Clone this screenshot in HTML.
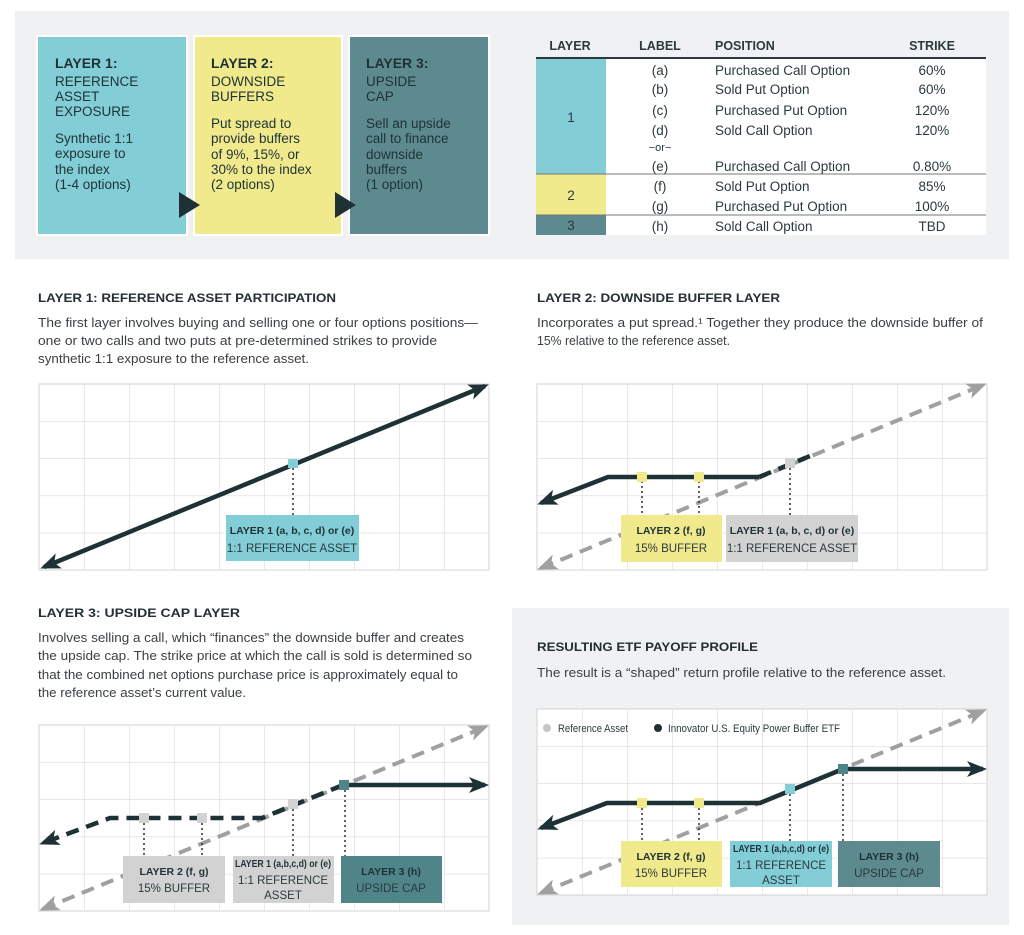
<!DOCTYPE html>
<html><head><meta charset="utf-8"><style>
html,body{margin:0;padding:0;background:#fff;}
svg{display:block;font-family:"Liberation Sans",sans-serif;}
.h{font-weight:bold;font-size:12px;fill:#232f33;}
.p{font-size:13px;fill:#3a3f42;}
.bh{font-weight:bold;font-size:14px;fill:#1e3236;}
.bt{font-size:13.5px;fill:#1e3236;}
.th{font-weight:bold;font-size:12.5px;fill:#2b3a3d;}
.td{font-size:13.5px;fill:#2b3a3d;}
.lb{font-weight:bold;font-size:10.5px;fill:#1e3236;}
.ls{font-size:11.5px;fill:#2b3a3d;}
</style></head><body>
<svg width="1024" height="935" viewBox="0 0 1024 935" xmlns="http://www.w3.org/2000/svg">
<defs>
<marker id="ad" markerUnits="userSpaceOnUse" markerWidth="22" markerHeight="16" refX="16" refY="8" orient="auto-start-reverse"><path d="M0,0 L20,8 L0,16 L5,8 z" fill="#1e3236"/></marker>
<marker id="ag" markerUnits="userSpaceOnUse" markerWidth="22" markerHeight="16" refX="16" refY="8" orient="auto-start-reverse"><path d="M0,0 L20,8 L0,16 L5,8 z" fill="#a0a0a0"/></marker>
<pattern id="g" x="0" y="0" width="45" height="37.2" patternUnits="userSpaceOnUse"><path d="M0,0 H45 M0,0 V37.2" stroke="#d3d3d3" stroke-width="1" fill="none"/></pattern>
</defs>

<!-- top panel -->
<rect x="15" y="11" width="994" height="248" fill="#f0f1f2"/>
<rect x="36" y="35" width="152" height="201" fill="#fff"/>
<rect x="38" y="37" width="148" height="197" fill="#82cdd6"/>
<rect x="193" y="35" width="150" height="201" fill="#fff"/>
<rect x="195" y="37" width="146" height="197" fill="#f0ea8c"/>
<rect x="348" y="35" width="142" height="201" fill="#fff"/>
<rect x="350" y="37" width="138" height="197" fill="#5d8a8e"/>
<path d="M179,192 L200,205 L179,218 z" fill="#1e3236"/>
<path d="M335,192 L356,205 L335,218 z" fill="#1e3236"/>
<g class="bh"><text x="55" y="68">LAYER 1:</text><text x="211" y="68">LAYER 2:</text><text x="366" y="68">LAYER 3:</text></g>
<g class="bt" font-size="14">
<text x="55" y="86">REFERENCE</text><text x="55" y="101">ASSET</text><text x="55" y="116">EXPOSURE</text>
<text x="211" y="86">DOWNSIDE</text><text x="211" y="101">BUFFERS</text>
<text x="366" y="86">UPSIDE</text><text x="366" y="101">CAP</text>
</g>
<g class="bt" font-size="13">
<text x="55" y="143">Synthetic 1:1</text><text x="55" y="158">exposure to</text><text x="55" y="174">the index</text><text x="55" y="189">(1-4 options)</text>
<text x="211" y="128">Put spread to</text><text x="211" y="143">provide buffers</text><text x="211" y="159">of 9%, 15%, or</text><text x="211" y="174">30% to the index</text><text x="211" y="189">(2 options)</text>
<text x="366" y="128">Sell an upside</text><text x="366" y="143">call to finance</text><text x="366" y="159">downside</text><text x="366" y="174">buffers</text><text x="366" y="189">(1 option)</text>
</g>

<!-- table -->
<rect x="536" y="59" width="450" height="176" fill="#fff"/>
<rect x="536" y="59" width="70" height="115" fill="#82cdd6"/>
<rect x="536" y="174" width="70" height="41" fill="#f0ea8c"/>
<rect x="536" y="215" width="70" height="20" fill="#5d8a8e"/>
<line x1="536" y1="58" x2="986" y2="58" stroke="#2b3a3d" stroke-width="2"/>
<line x1="536" y1="174" x2="986" y2="174" stroke="#777" stroke-width="1"/>
<line x1="536" y1="215" x2="986" y2="215" stroke="#777" stroke-width="1"/>
<g class="th"><text x="570" y="50" text-anchor="middle">LAYER</text><text x="660" y="50" text-anchor="middle">LABEL</text><text x="715" y="50">POSITION</text><text x="932" y="50" text-anchor="middle">STRIKE</text></g>
<g class="td">
<text x="571" y="122" text-anchor="middle">1</text><text x="571" y="200" text-anchor="middle">2</text><text x="571" y="230" text-anchor="middle">3</text>
<g text-anchor="middle">
<text x="660" y="75">(a)</text><text x="660" y="94">(b)</text><text x="660" y="115">(c)</text><text x="660" y="135">(d)</text><text x="660" y="151" font-size="11">−or−</text><text x="660" y="171">(e)</text><text x="660" y="191">(f)</text><text x="660" y="211">(g)</text><text x="660" y="231">(h)</text>
<text x="932" y="75">60%</text><text x="932" y="94">60%</text><text x="932" y="115">120%</text><text x="932" y="135">120%</text><text x="932" y="171">0.80%</text><text x="932" y="191">85%</text><text x="932" y="211">100%</text><text x="932" y="231">TBD</text>
</g>
<text x="715" y="75">Purchased Call Option</text><text x="715" y="94">Sold Put Option</text><text x="715" y="115">Purchased Put Option</text><text x="715" y="135">Sold Call Option</text><text x="715" y="171">Purchased Call Option</text><text x="715" y="191">Sold Put Option</text><text x="715" y="211">Purchased Put Option</text><text x="715" y="231">Sold Call Option</text>
</g>

<!-- section texts -->
<text class="h" x="38" y="302" textLength="298" lengthAdjust="spacingAndGlyphs">LAYER 1: REFERENCE ASSET PARTICIPATION</text>
<g class="p">
<text x="38" y="327" textLength="440" lengthAdjust="spacingAndGlyphs">The first layer involves buying and selling one or four options positions—</text>
<text x="38" y="345" textLength="399" lengthAdjust="spacingAndGlyphs">one or two calls and two puts at pre-determined strikes to provide</text>
<text x="38" y="363" textLength="271" lengthAdjust="spacingAndGlyphs">synthetic 1:1 exposure to the reference asset.</text>
</g>
<text class="h" x="537" y="302" textLength="243" lengthAdjust="spacingAndGlyphs">LAYER 2: DOWNSIDE BUFFER LAYER</text>
<g class="p">
<text x="537" y="327" textLength="446" lengthAdjust="spacingAndGlyphs">Incorporates a put spread.¹ Together they produce the downside buffer of</text>
<text x="537" y="345" textLength="193" lengthAdjust="spacingAndGlyphs">15% relative to the reference asset.</text>
</g>
<text class="h" x="38" y="617" textLength="202" lengthAdjust="spacingAndGlyphs">LAYER 3: UPSIDE CAP LAYER</text>
<g class="p">
<text x="38" y="642" textLength="426" lengthAdjust="spacingAndGlyphs">Involves selling a call, which “finances” the downside buffer and creates</text>
<text x="38" y="660" textLength="434" lengthAdjust="spacingAndGlyphs">the upside cap. The strike price at which the call is sold is determined so</text>
<text x="38" y="679" textLength="420" lengthAdjust="spacingAndGlyphs">that the combined net options purchase price is approximately equal to</text>
<text x="38" y="697" textLength="208" lengthAdjust="spacingAndGlyphs">the reference asset’s current value.</text>
</g>
<rect x="512" y="608" width="497" height="317" fill="#f0f1f2"/>
<text class="h" x="537" y="651" textLength="221" lengthAdjust="spacingAndGlyphs">RESULTING ETF PAYOFF PROFILE</text>
<text class="p" x="537" y="677" textLength="409" lengthAdjust="spacingAndGlyphs">The result is a “shaped” return profile relative to the reference asset.</text>

<!-- chart 1 -->
<g transform="translate(39,384)">
<rect x="0" y="0" width="450" height="186" fill="url(#g)" stroke="#d3d3d3"/>
</g>
<line x1="44" y1="567" x2="485" y2="386" stroke="#1e3236" stroke-width="4.5" marker-start="url(#ad)" marker-end="url(#ad)"/>
<line x1="293" y1="468" x2="293" y2="515" stroke="#1e3236" stroke-width="1.5" stroke-dasharray="2 3"/>
<rect x="288" y="459" width="10" height="9" fill="#82cdd6"/>
<rect x="226" y="515" width="133" height="46" fill="#82cdd6"/>
<text class="lb" x="292" y="534" text-anchor="middle">LAYER 1 (a, b, c, d) or (e)</text>
<text class="ls" x="292" y="552" text-anchor="middle">1:1 REFERENCE ASSET</text>

<!-- chart 2 -->
<g transform="translate(537,384)">
<rect x="0" y="0" width="450" height="186" fill="url(#g)" stroke="#d3d3d3"/>
</g>
<line x1="541" y1="568" x2="983" y2="385" stroke="#a0a0a0" stroke-width="4" stroke-dasharray="13 8" marker-start="url(#ag)" marker-end="url(#ag)"/>
<line x1="759" y1="477" x2="810" y2="456" stroke="#1e3236" stroke-width="4.5" stroke-dasharray="13 8"/>
<polyline points="759,477 608,477 541,503" fill="none" stroke="#1e3236" stroke-width="4.5" marker-end="url(#ad)"/>
<g stroke="#1e3236" stroke-width="1.5" stroke-dasharray="2 3">
<line x1="642" y1="481" x2="642" y2="515"/><line x1="699" y1="481" x2="699" y2="515"/><line x1="790" y1="468" x2="790" y2="515"/></g>
<rect x="637" y="472" width="10" height="10" fill="#f0ea8c"/><rect x="694" y="472" width="10" height="10" fill="#f0ea8c"/>
<rect x="785" y="458" width="10" height="10" fill="#d2d2d2"/>
<rect x="621" y="515" width="101" height="47" fill="#f0ea8c"/>
<rect x="726" y="515" width="132" height="47" fill="#d2d2d2"/>
<text class="lb" x="671" y="534" text-anchor="middle">LAYER 2 (f, g)</text>
<text class="ls" x="671" y="552" text-anchor="middle">15% BUFFER</text>
<text class="lb" x="792" y="534" text-anchor="middle">LAYER 1 (a, b, c, d) or (e)</text>
<text class="ls" x="792" y="552" text-anchor="middle">1:1 REFERENCE ASSET</text>

<!-- chart 3 -->
<g transform="translate(39,725)">
<rect x="0" y="0" width="450" height="186" fill="url(#g)" stroke="#d3d3d3"/>
</g>
<line x1="43" y1="909" x2="485" y2="727" stroke="#a0a0a0" stroke-width="4" stroke-dasharray="13 8" marker-start="url(#ag)" marker-end="url(#ag)"/>
<polyline points="343,785 262,818 110,818 43,843" fill="none" stroke="#1e3236" stroke-width="4.5" stroke-dasharray="13 8" marker-end="url(#ad)"/>
<line x1="343" y1="785" x2="485" y2="785" stroke="#1e3236" stroke-width="4.5" marker-end="url(#ad)"/>
<g stroke="#1e3236" stroke-width="1.5" stroke-dasharray="2 3">
<line x1="144" y1="823" x2="144" y2="856"/><line x1="202" y1="823" x2="202" y2="856"/><line x1="293" y1="809" x2="293" y2="856"/><line x1="345" y1="790" x2="345" y2="856"/></g>
<rect x="139" y="813" width="10" height="10" fill="#d2d2d2"/><rect x="197" y="813" width="10" height="10" fill="#d2d2d2"/>
<rect x="288" y="799" width="10" height="10" fill="#d2d2d2"/><rect x="339" y="780" width="10" height="10" fill="#4f8589"/>
<rect x="123" y="856" width="102" height="47" fill="#d2d2d2"/>
<rect x="233" y="856" width="101" height="47" fill="#d2d2d2"/>
<rect x="341" y="856" width="101" height="47" fill="#4f8589"/>
<text class="lb" x="174" y="875" text-anchor="middle">LAYER 2 (f, g)</text>
<text class="ls" x="174" y="892" text-anchor="middle">15% BUFFER</text>
<text class="lb" x="283" y="867" text-anchor="middle" textLength="96" lengthAdjust="spacingAndGlyphs">LAYER 1 (a,b,c,d) or (e)</text>
<text class="ls" x="283" y="884" text-anchor="middle">1:1 REFERENCE</text>
<text class="ls" x="283" y="899" text-anchor="middle">ASSET</text>
<text class="lb" x="391" y="875" text-anchor="middle">LAYER 3 (h)</text>
<text class="ls" x="391" y="892" text-anchor="middle">UPSIDE CAP</text>

<!-- chart 4 -->
<g transform="translate(537,709)">
<rect x="0" y="0" width="450" height="186" fill="#fff"/>
<rect x="0" y="0" width="450" height="186" fill="url(#g)" stroke="#d3d3d3"/>
</g>
<circle cx="547" cy="728" r="4" fill="#c4c4c4"/>
<text x="558" y="732" font-size="11" fill="#2b3a3d" textLength="70" lengthAdjust="spacingAndGlyphs">Reference Asset</text>
<circle cx="658" cy="728" r="4" fill="#1e3236"/>
<text x="668" y="732" font-size="11" fill="#2b3a3d" textLength="172" lengthAdjust="spacingAndGlyphs">Innovator U.S. Equity Power Buffer ETF</text>
<line x1="541" y1="893" x2="983" y2="711" stroke="#a0a0a0" stroke-width="4" stroke-dasharray="13 8" marker-start="url(#ag)" marker-end="url(#ag)"/>
<polyline points="983,769 843,769 760,803 607,803 541,828" fill="none" stroke="#1e3236" stroke-width="4.5" marker-start="url(#ad)" marker-end="url(#ad)"/>
<g stroke="#1e3236" stroke-width="1.5" stroke-dasharray="2 3">
<line x1="642" y1="808" x2="642" y2="841"/><line x1="699" y1="808" x2="699" y2="841"/><line x1="790" y1="794" x2="790" y2="841"/><line x1="843" y1="774" x2="843" y2="841"/></g>
<rect x="637" y="798" width="10" height="10" fill="#f0ea8c"/><rect x="694" y="798" width="10" height="10" fill="#f0ea8c"/>
<rect x="785" y="784" width="10" height="10" fill="#82cdd6"/><rect x="838" y="764" width="10" height="10" fill="#4f8589"/>
<rect x="621" y="841" width="101" height="46" fill="#f0ea8c"/>
<rect x="730" y="841" width="102" height="46" fill="#82cdd6"/>
<rect x="838" y="841" width="102" height="46" fill="#5d8a8e"/>
<text class="lb" x="671" y="860" text-anchor="middle">LAYER 2 (f, g)</text>
<text class="ls" x="671" y="877" text-anchor="middle">15% BUFFER</text>
<text class="lb" x="781" y="852" text-anchor="middle" textLength="96" lengthAdjust="spacingAndGlyphs">LAYER 1 (a,b,c,d) or (e)</text>
<text class="ls" x="781" y="869" text-anchor="middle">1:1 REFERENCE</text>
<text class="ls" x="781" y="884" text-anchor="middle">ASSET</text>
<text class="lb" x="889" y="860" text-anchor="middle">LAYER 3 (h)</text>
<text class="ls" x="889" y="877" text-anchor="middle">UPSIDE CAP</text>
</svg>
</body></html>
